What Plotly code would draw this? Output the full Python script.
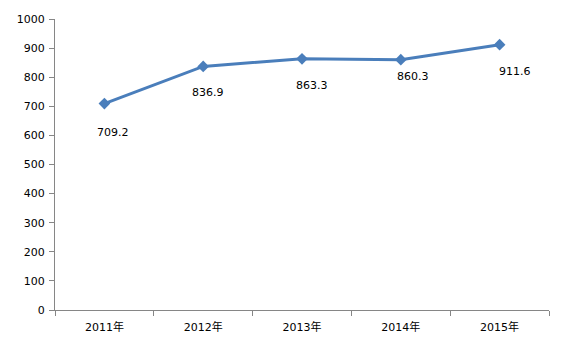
import plotly.graph_objects as go

# Annual values, 2011-2015
years = ["2011年", "2012年", "2013年", "2014年", "2015年"]
values = [709.2, 836.9, 863.3, 860.3, 911.6]
y_ticks = list(range(0, 1001, 100))

# pixel offsets for the value labels (placed below each point)
label_dx = [9, 5, 10, 12, 15]
label_dy = [-29, -26, -27, -17, -27]

line_color = "#4A7EBB"
axis_color = "#868686"
font_family = "DejaVu Sans, Noto Sans CJK SC, sans-serif"

fig = go.Figure()
fig.add_trace(go.Scatter(
    x=years,
    y=values,
    mode="lines+markers",
    line=dict(color=line_color, width=3),
    marker=dict(symbol="diamond", size=9, color=line_color),
    showlegend=False,
    hoverinfo="skip",
))

for yr, v, dx, dy in zip(years, values, label_dx, label_dy):
    fig.add_annotation(
        x=yr, y=v, text=f"{v:.1f}", showarrow=False,
        xshift=dx, yshift=dy,
        font=dict(family=font_family, size=11, color="#000000"),
    )

fig.update_layout(
    width=568, height=345,
    margin=dict(l=55, r=19, t=19, b=35),
    paper_bgcolor="white",
    plot_bgcolor="white",
    font=dict(family=font_family, size=11, color="#000000"),
)
fig.update_xaxes(
    type="category",
    range=[-0.5, 4.5],
    automargin=False,
    showline=True, linecolor=axis_color, linewidth=1,
    ticks="outside", tickson="boundaries", ticklen=5, tickcolor=axis_color,
    ticklabelstandoff=7,
    showgrid=False, zeroline=False,
    tickfont=dict(family=font_family, size=11, color="#000000"),
)
fig.update_yaxes(
    range=[0, 1000],
    tickvals=y_ticks,
    automargin=False,
    showline=True, linecolor=axis_color, linewidth=1,
    ticks="outside", ticklen=5, tickcolor=axis_color,
    ticklabelstandoff=2,
    showgrid=False, zeroline=False,
    tickfont=dict(family=font_family, size=11, color="#000000"),
)

fig.write_html("out.html")
